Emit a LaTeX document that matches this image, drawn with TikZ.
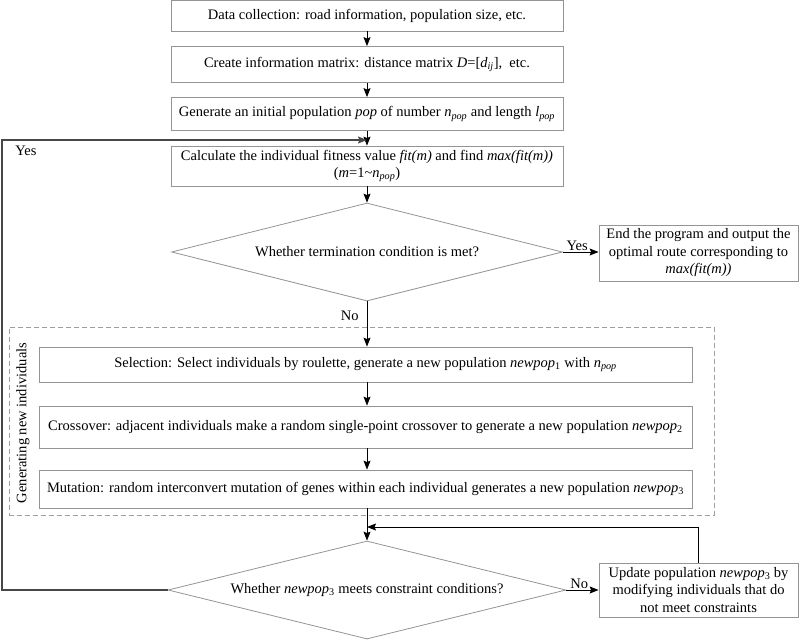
\documentclass[tikz,border=0pt]{standalone}
\usepackage{fontspec}
\setmainfont{Liberation Serif}
\usetikzlibrary{arrows.meta,shapes.geometric,calc}
\newcommand\vsb[2]{\textit{#1}\textsubscript{\textit{#2}}}
\newcommand\npop[1]{\textit{newpop}\textsubscript{#1}}
\begin{document}
\begin{tikzpicture}[x=1pt,y=-1pt,
  txt/.style={font=\fontsize{14.5}{17.5}\selectfont},
  box/.style={txt, draw=black!42, line width=0.8pt, rectangle, inner sep=2pt, align=center},
  dia/.style={txt, draw=black!42, line width=0.8pt, diamond, aspect=4, inner sep=0pt, align=center},
  grpbox/.style={draw=black!38, line width=0.8pt, dash pattern=on 5pt off 3pt, rectangle, inner sep=0pt},
  arr/.style={-{Stealth[length=9pt,width=7pt,inset=1.5pt]}, line width=0.9pt},
  loopline/.style={-{Stealth[length=9pt,width=7pt,inset=1.5pt]}, line width=1.4pt, draw=black!72},
  lbl/.style={txt, inner sep=1pt}]
\path[use as bounding box] (0,0) rectangle (800,640);
\coordinate (ax) at (367,0);
\coordinate (lx) at (2,0);
\coordinate (ly) at (0,140);
\coordinate (fy) at (0,527);
\node[box, minimum width=392pt, minimum height=31pt] (b1) at (367,15.5) {Data collection: road information, population size, etc.};
\node[box, minimum width=392pt, minimum height=36pt] (b2) at (367,64.5) {Create information matrix: distance matrix \textit{D}=[\vsb{d}{ij}],\ \ etc.};
\node[box, minimum width=392pt, minimum height=33pt] (b3) at (367,114) {Generate an initial population \textit{pop} of number \vsb{n}{pop} and length \vsb{l}{pop}};
\node[box, minimum width=392pt, minimum height=40pt] (b4) at (367,166) {Calculate the individual fitness value \textit{fit(m)} and find \textit{max(fit(m))}\\(\textit{m}=1\textasciitilde\vsb{n}{pop})};
\node[dia, minimum width=391pt, minimum height=98pt] (d1) at (367,252) {Whether termination condition is met?};
\node[box, minimum width=199pt, minimum height=56pt] (b5) at (698.5,253) {End the program and output the\\optimal route corresponding to\\\textit{max(fit(m))}};
\node[grpbox, minimum width=705pt, minimum height=188pt] (grp) at (361.5,421) {};
\node[txt, rotate=90] (gl) at (23,423) {Generating new individuals};
\node[box, minimum width=653pt, minimum height=35pt] (s1) at (365.5,364.5) {Selection: Select individuals by roulette, generate a new population \npop{1} with \vsb{n}{pop}};
\node[box, minimum width=653pt, minimum height=42pt] (s2) at (365.5,427) {Crossover: adjacent individuals make a random single-point crossover to generate a new population \npop{2}};
\node[box, minimum width=653pt, minimum height=38pt] (s3) at (365.5,489) {Mutation: random interconvert mutation of genes within each individual generates a new population \npop{3}};
\node[dia, minimum width=398pt, minimum height=98pt] (d2) at (367,590) {Whether \npop{3} meets constraint conditions?};
\node[box, minimum width=199pt, minimum height=54pt] (b6) at (698.5,590) {Update population \npop{3} by\\modifying individuals that do\\not meet constraints};
\draw[arr] (b1.south -| ax) -- (b2.north -| ax);
\draw[arr] (b2.south -| ax) -- (b3.north -| ax);
\draw[arr] (b3.south -| ax) -- (b4.north -| ax);
\draw[arr] (b4.south -| ax) -- (d1.north);
\draw[arr] (d1.east) -- node[lbl, above, pos=0.4] (yes1) {Yes} (d1.east -| b5.west);
\draw[arr] (d1.south) -- node[lbl, left=7pt, pos=0.33] (no1) {No} (s1.north -| ax);
\draw[arr] (s1.south -| ax) -- (s2.north -| ax);
\draw[arr] (s2.south -| ax) -- (s3.north -| ax);
\draw[arr] (s3.south -| ax) -- (d2.north);
\draw[arr] (d2.east) -- node[lbl, above, pos=0.4] (no2) {No} (d2.east -| b6.west);
\draw[arr] (b6.north) -- (b6.north |- fy) -- (ax |- fy);
\draw[loopline] (d2.west) -- (d2.west -| lx) -- (lx |- ly) -- (ax |- ly);
\node[lbl] (yes2) at (26,151) {Yes};
\end{tikzpicture}
\end{document}
